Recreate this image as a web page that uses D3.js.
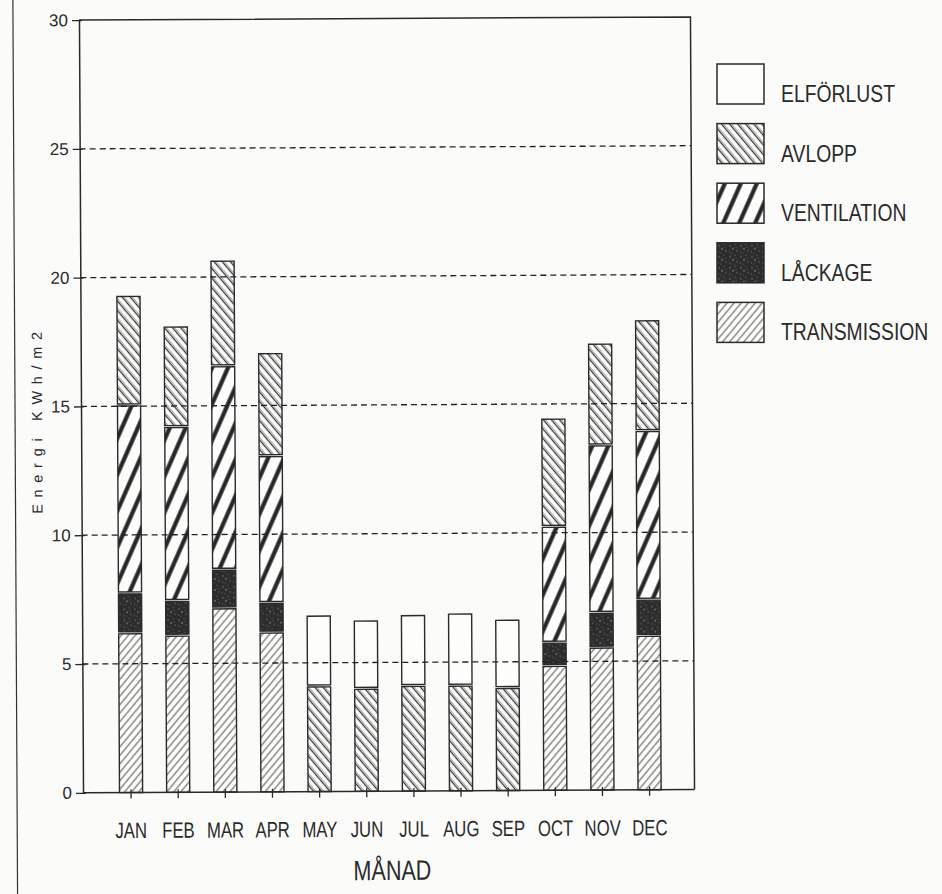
<!DOCTYPE html>
<html>
<head>
<meta charset="utf-8">
<script src="https://cdn.jsdelivr.net/npm/d3@7"></script>
<style>
  html, body { margin: 0; padding: 0; background: #fbfbfa; }
  svg { display: block; }
  text { font-family: "Liberation Sans", Arial, sans-serif; fill: #2a2a2a; }
</style>
</head>
<body>
<svg id="chart" width="942" height="894"></svg>
<script>
// Monthly energy balance, kWh per m2, stacked by loss type
const months = ["JAN", "FEB", "MAR", "APR", "MAY", "JUN", "JUL", "AUG", "SEP", "OCT", "NOV", "DEC"];
const transmission = [6.2, 6.1, 7.15, 6.2, 0, 0, 0, 0, 0, 4.85, 5.55, 6.0];
const lackage      = [1.55, 1.35, 1.5, 1.15, 0, 0, 0, 0, 0, 0.9, 1.35, 1.4];
const ventilation  = [7.3, 6.75, 7.9, 5.7, 0, 0, 0, 0, 0, 4.5, 6.5, 6.55];
const avlopp       = [4.25, 3.9, 4.1, 4.0, 4.1, 4.0, 4.1, 4.1, 4.0, 4.2, 3.95, 4.3];
const elforlust    = [0, 0, 0, 0, 2.75, 2.65, 2.75, 2.8, 2.65, 0, 0, 0];
const yTicks = [0, 5, 10, 15, 20, 25, 30];
const gridValues = [5, 10, 15, 20, 25];

const seriesKeys = ["transmission", "lackage", "ventilation", "avlopp", "elforlust"];
const seriesData = { transmission, lackage, ventilation, avlopp, elforlust };
const legendItems = [
  { key: "elforlust", label: "ELFÖRLUST" },
  { key: "avlopp", label: "AVLOPP" },
  { key: "ventilation", label: "VENTILATION" },
  { key: "lackage", label: "LÅCKAGE" },
  { key: "transmission", label: "TRANSMISSION" }
];

const table = months.map((m, i) => {
  const row = { month: m };
  seriesKeys.forEach(k => row[k] = seriesData[k][i]);
  return row;
});

const ink = "#2a2a2a";
const svg = d3.select("#chart");
svg.append("rect").attr("width", 942).attr("height", 894).attr("fill", "#fbfbfa");

// ---- fill patterns ----
const defs = svg.append("defs");
function hatch(id, spacing, angle, width, color) {
  const p = defs.append("pattern").attr("id", id)
    .attr("patternUnits", "userSpaceOnUse")
    .attr("width", spacing).attr("height", 20)
    .attr("patternTransform", `rotate(${angle})`);
  p.append("rect").attr("width", spacing).attr("height", 20).attr("fill", "#fdfdfc");
  p.append("line").attr("x1", spacing / 2).attr("x2", spacing / 2)
    .attr("y1", 0).attr("y2", 20)
    .attr("stroke", color).attr("stroke-width", width);
  return p;
}
hatch("p-transmission", 5.4, 40, 0.9, "#333");
const pa = hatch("p-avlopp", 6.2, -40, 1.2, "#333");
pa.append("line").attr("x1", 4.6).attr("x2", 4.6).attr("y1", 0).attr("y2", 20)
  .attr("stroke", "#555").attr("stroke-width", 0.6);
hatch("p-ventilation", 14.6, 24, 4.2, "#262626");

const pl = defs.append("pattern").attr("id", "p-lackage")
  .attr("patternUnits", "userSpaceOnUse").attr("width", 11).attr("height", 11);
pl.append("rect").attr("width", 11).attr("height", 11).attr("fill", "#2c2c2c");
[[2, 3, 0.8], [7, 1.5, 0.6], [5, 6, 0.9], [9, 8, 0.7], [1.5, 9, 0.6], [8, 4.5, 0.5], [4, 10, 0.5]]
  .forEach(([cx, cy, r]) => pl.append("circle").attr("cx", cx).attr("cy", cy).attr("r", r).attr("fill", "#777"));

const fills = {
  transmission: "url(#p-transmission)",
  lackage: "url(#p-lackage)",
  ventilation: "url(#p-ventilation)",
  avlopp: "url(#p-avlopp)",
  elforlust: "#fdfdfc"
};

// ---- plot (slightly tilted, like the printed sheet) ----
const plotLeft = 81, plotRight = 692.5, plotTop = 18.5, plotBottom = 791.2;
const g = svg.append("g").attr("transform", "rotate(-0.3, 386, 405)");

const y = d3.scaleLinear().domain([0, 30]).range([plotBottom, plotTop]);
const x = d3.scaleBand().domain(months).range([105.7, 670.9])
  .paddingInner(0.51).paddingOuter(0.25);

// page edge line at the left
g.append("line").attr("x1", 15).attr("x2", 15).attr("y1", -10).attr("y2", 910)
  .attr("stroke", "#333").attr("stroke-width", 1.2);

// stacked bars
const stacked = d3.stack().keys(seriesKeys)(table);
const gap = 1;
stacked.forEach(layer => {
  g.append("g").selectAll("rect")
    .data(layer.filter(d => d[1] - d[0] > 0))
    .join("rect")
    .attr("x", d => x(d.data.month))
    .attr("width", x.bandwidth())
    .attr("y", d => y(d[1]) + gap)
    .attr("height", d => y(d[0]) - y(d[1]) - (d[0] > 0 ? 2 * gap : gap))
    .attr("fill", fills[layer.key])
    .attr("stroke", ink)
    .attr("stroke-width", 1.4);
});

// dashed reference lines
g.append("g").selectAll("line").data(gridValues).join("line")
  .attr("x1", plotLeft).attr("x2", plotRight)
  .attr("y1", d => y(d)).attr("y2", d => y(d))
  .attr("stroke", "#222").attr("stroke-width", 1.3)
  .attr("stroke-dasharray", "6,4");

// frame: top and right edges
g.append("path")
  .attr("d", `M${plotLeft},${y(30)}H${plotRight}V${y(0)}`)
  .attr("fill", "none").attr("stroke", ink).attr("stroke-width", 1.5);

// y axis
const yAxis = g.append("g").attr("transform", `translate(${plotLeft},0)`)
  .call(d3.axisLeft(y).tickValues(yTicks).tickSizeInner(7).tickSizeOuter(0).tickPadding(4));
yAxis.select(".domain").attr("stroke", ink).attr("stroke-width", 1.5);
yAxis.selectAll(".tick line").attr("x1", 3).attr("stroke", ink).attr("stroke-width", 1.3);
yAxis.selectAll(".tick text")
  .style("font-family", "Liberation Sans, Arial, sans-serif")
  .attr("font-size", 17).attr("fill", ink);

// x axis
const xAxis = g.append("g").attr("transform", `translate(0,${plotBottom})`)
  .call(d3.axisBottom(x).tickSizeInner(6).tickSizeOuter(0).tickPadding(0));
xAxis.select(".domain").attr("d", `M${plotLeft},0H${plotRight}`)
  .attr("stroke", ink).attr("stroke-width", 1.5);
xAxis.selectAll(".tick line").attr("y1", -3).attr("stroke", ink).attr("stroke-width", 1.3);
xAxis.selectAll(".tick text")
  .attr("y", 45.5).attr("dy", 0)
  .style("font-family", "Liberation Sans, Arial, sans-serif")
  .attr("font-size", 22).attr("fill", ink)
  .attr("transform", "scale(0.76,1)");

// axis titles
g.append("text")
  .attr("transform", "translate(390,880) scale(0.77,1)")
  .attr("text-anchor", "middle")
  .attr("font-size", 28)
  .text("MÅNAD");

g.append("text")
  .attr("transform", "translate(42,512) rotate(-90)")
  .attr("text-anchor", "start")
  .attr("font-size", 14.5)
  .attr("textLength", 182)
  .attr("lengthAdjust", "spacing")
  .text("Energi KWh/m2");

// legend
const legend = svg.append("g").attr("transform", "translate(717,64)");
const li = legend.selectAll("g").data(legendItems).join("g")
  .attr("transform", (d, i) => `translate(0,${i * 59.6})`);
li.append("rect").attr("width", 47).attr("height", 40)
  .attr("fill", d => fills[d.key])
  .attr("stroke", ink).attr("stroke-width", 1.5);
li.append("text")
  .attr("transform", "translate(64,38) scale(0.82,1)")
  .attr("font-size", 23.6)
  .text(d => d.label);
</script>
</body>
</html>
